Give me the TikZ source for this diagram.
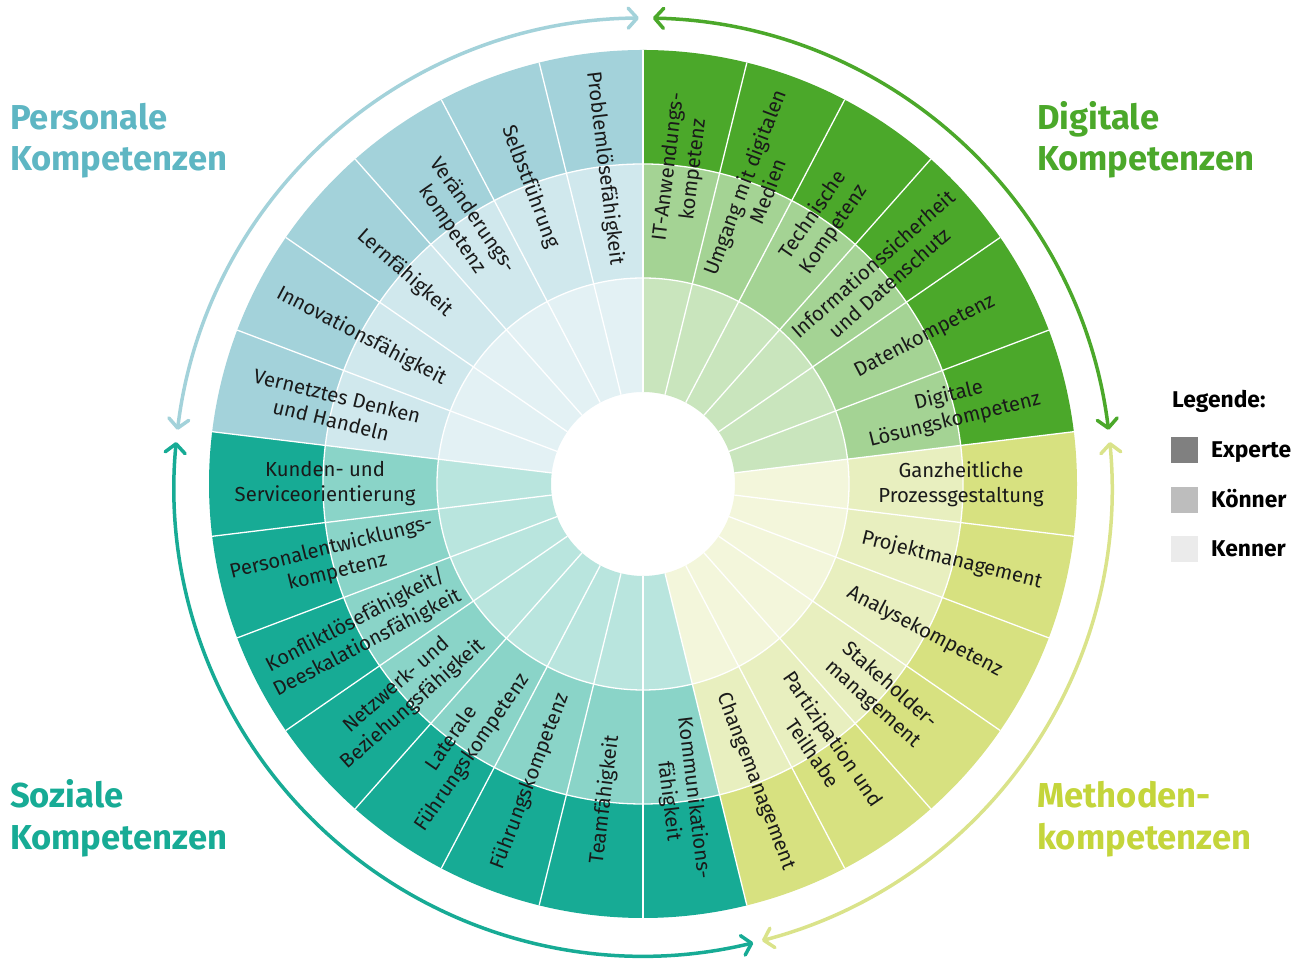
\documentclass[tikz,border=0pt]{standalone}
\usepackage{fontspec}
\setmainfont{Fira Sans}
\usetikzlibrary{arrows.meta}
\definecolor{digA}{HTML}{4BA82A}
\definecolor{digB}{HTML}{A4D394}
\definecolor{digC}{HTML}{C9E5BD}
\definecolor{metA}{HTML}{D7E180}
\definecolor{metB}{HTML}{E8EFBF}
\definecolor{metC}{HTML}{F3F6DB}
\definecolor{sozA}{HTML}{17AB95}
\definecolor{sozB}{HTML}{8AD4C8}
\definecolor{sozC}{HTML}{B9E5DE}
\definecolor{perA}{HTML}{A3D2DA}
\definecolor{perB}{HTML}{D0E8ED}
\definecolor{perC}{HTML}{E3F1F4}
\definecolor{perT}{HTML}{5EB6C3}
\definecolor{metT}{HTML}{C4D53B}
\definecolor{metArc}{HTML}{DAE38A}
\definecolor{txt}{HTML}{1A1A1A}
\tikzset{
  seglabel/.style={font=\fontsize{20.3}{25}\selectfont, align=center, text=txt, inner sep=0pt},
  titletext/.style={font=\fontsize{34.6}{41}\selectfont\bfseries, anchor=base west, inner sep=0pt},
  sepline/.style={white, line width=1.3pt},
  bracket/.style={line width=3.5pt, {Straight Barb[length=9pt,width=20pt,round]}-{Straight Barb[length=9pt,width=20pt,round]}},
  legbox/.style={minimum width=27pt, minimum height=26pt, inner sep=0pt, anchor=north west},
  legtext/.style={font=\fontsize{22.8}{26}\selectfont\bfseries, anchor=base west, inner sep=0pt, text=black}
}
\begin{document}
\begin{tikzpicture}[x=1pt,y=1pt]
\useasboundingbox (0,0) rectangle (1305,960);
\coordinate (C) at (643,476);
% wheel
\begin{scope}[shift={(643,476)}]
\foreach \i/\g in {0/dig,1/dig,2/dig,3/dig,4/dig,5/dig,6/met,7/met,8/met,9/met,10/met,11/met,12/soz,13/soz,14/soz,15/soz,16/soz,17/soz,18/soz,19/soz,20/per,21/per,22/per,23/per,24/per,25/per}{
  \pgfmathsetmacro\aS{90-\i*360/26}
  \pgfmathsetmacro\aE{90-(\i+1)*360/26}
  \fill[fill=\g C] (\aS:92pt) arc[start angle=\aS,end angle=\aE,radius=92pt] -- (\aE:206pt) arc[start angle=\aE,end angle=\aS,radius=206pt] -- cycle;
  \fill[fill=\g B] (\aS:206pt) arc[start angle=\aS,end angle=\aE,radius=206pt] -- (\aE:320pt) arc[start angle=\aE,end angle=\aS,radius=320pt] -- cycle;
  \fill[fill=\g A] (\aS:320pt) arc[start angle=\aS,end angle=\aE,radius=320pt] -- (\aE:434pt) arc[start angle=\aE,end angle=\aS,radius=434pt] -- cycle;
}
\foreach \i in {0,...,25}{
  \pgfmathsetmacro\a{90-\i*360/26}
  \draw[sepline] (\a:92pt) -- (\a:434pt);
}
\draw[sepline] (0,0) circle[radius=206pt];
\draw[sepline] (0,0) circle[radius=320pt];
\foreach \i/\lab in {
  0/{IT-Anwendungs-\\kompetenz},
  1/{Umgang mit digitalen\\Medien},
  2/{Technische\\Kompetenz},
  3/{Informationssicherheit\\und Datenschutz},
  4/{Datenkompetenz},
  5/{Digitale\\Lösungskompetenz},
  6/{Ganzheitliche\\Prozessgestaltung},
  7/{Projektmanagement},
  8/{Analysekompetenz},
  9/{Stakeholder-\\management},
  10/{Partizipation und\\Teilhabe},
  11/{Changemanagement},
  12/{Kommunikations-\\fähigkeit},
  13/{Teamfähigkeit},
  14/{Führungskompetenz},
  15/{Laterale\\Führungskompetenz},
  16/{Netzwerk- und\\Beziehungsfähigkeit},
  17/{Konfliktlösefähigkeit/\\Deeskalationsfähigkeit},
  18/{Personalentwicklungs-\\kompetenz},
  19/{Kunden- und\\Serviceorientierung},
  20/{Vernetztes Denken\\und Handeln},
  21/{Innovationsfähigkeit},
  22/{Lernfähigkeit},
  23/{Veränderungs-\\kompetenz},
  24/{Selbstführung},
  25/{Problemlösefähigkeit}}{
  \pgfmathsetmacro\aM{90-(\i+0.5)*360/26}
  \pgfmathsetmacro\rot{ifthenelse(\aM<-90,\aM+180,\aM)}
  \node[seglabel, rotate=\rot] (lab\i) at (\aM:318pt) {\lab};
}
\end{scope}
% category arcs
\begin{scope}[shift={(643,473)}]
\draw[bracket, perA] (173.0:469pt) arc[start angle=173.0, end angle=90.5, radius=469pt];
\draw[bracket, digA] (88.8:469pt) arc[start angle=88.8, end angle=7.0, radius=469pt];
\draw[bracket, metArc] (5.5:469pt) arc[start angle=5.5, end angle=-75.3, radius=469pt];
\draw[bracket, sozA] (-76.4:469pt) arc[start angle=-76.4, end angle=-185.5, radius=469pt];
\end{scope}
% titles
\node[titletext, text=perT] (tPer1) at (10,830) {Personale};
\node[titletext, text=perT] (tPer2) at (10,789) {Kompetenzen};
\node[titletext, text=digA] (tDig1) at (1037,830) {Digitale};
\node[titletext, text=digA] (tDig2) at (1037,789) {Kompetenzen};
\node[titletext, text=metT] (tMet1) at (1037,152) {Methoden-};
\node[titletext, text=metT] (tMet2) at (1037,110) {kompetenzen};
\node[titletext, text=sozA] (tSoz1) at (10,152) {Soziale};
\node[titletext, text=sozA] (tSoz2) at (10,110) {Kompetenzen};
% legend
\node[legtext] (legT) at (1172,552) {Legende:};
\node[legbox, fill=black!50] (boxE) at (1171,523) {};
\node[legbox, fill=black!26] (boxK) at (1171,473) {};
\node[legbox, fill=black!8] (boxN) at (1171,424) {};
\node[legtext] (legE) at (1211,502) {Experte};
\node[legtext] (legK) at (1211,452) {Könner};
\node[legtext] (legN) at (1211,403) {Kenner};
\end{tikzpicture}
\end{document}
